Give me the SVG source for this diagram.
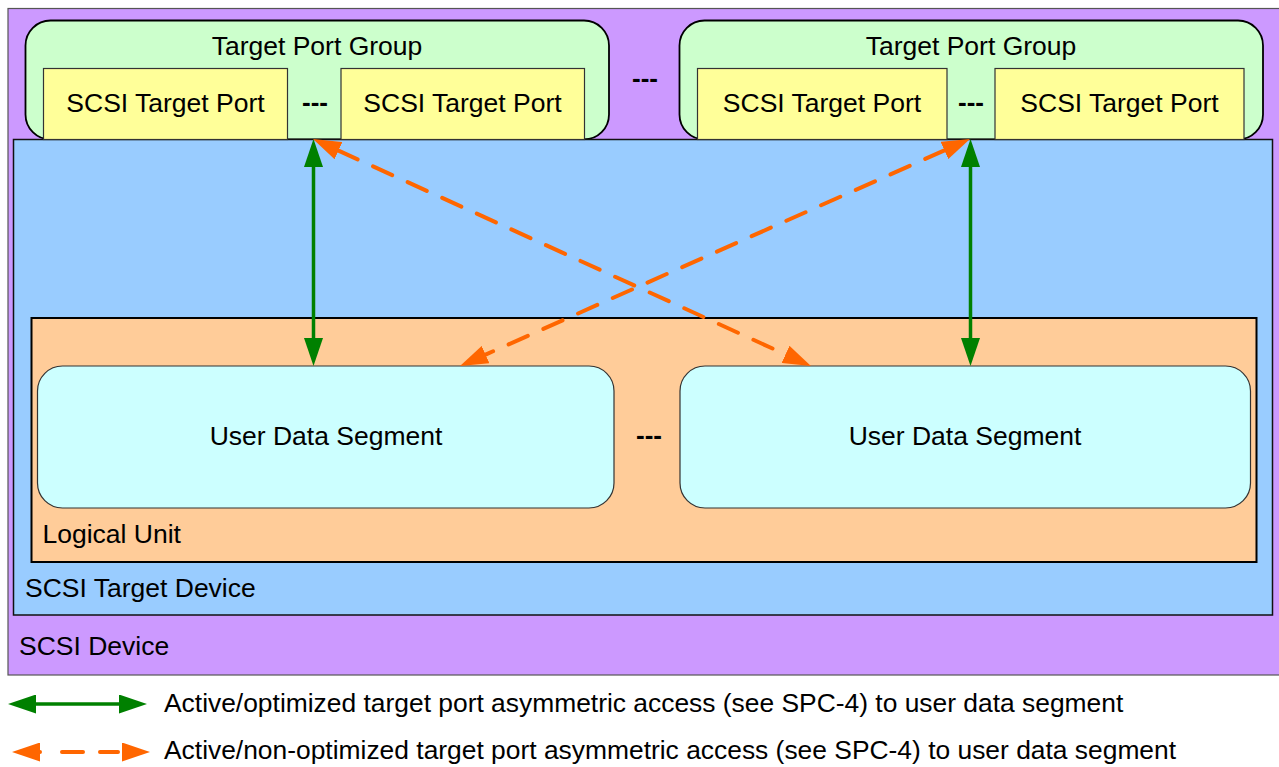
<svg xmlns="http://www.w3.org/2000/svg" width="1279" height="767" viewBox="0 0 1279 767">
  <style>
    text { font-family: "Liberation Sans", Arial, sans-serif; font-size: 26.5px; fill: #000; }
    .mid { text-anchor: middle; }
    .dots { font-weight: bold; text-anchor: middle; font-size: 26px; }
    .legend { font-size: 26.4px; }
    .device { fill: #CC99FF; stroke: #555; stroke-width: 1.2; }
    .tdev { fill: #99CCFF; stroke: #111; stroke-width: 1.5; }
    .tpg { fill: #CCFFCC; stroke: #000; stroke-width: 1.8; }
    .port { fill: #FFFF99; stroke: #333; stroke-width: 1.2; }
    .lu { fill: #FFCC99; stroke: #000; stroke-width: 2; }
    .uds { fill: #CCFFFF; stroke: #333; stroke-width: 1.2; }
    .opt { stroke: #008000; stroke-width: 3.5; fill: none; marker-start: url(#headG); marker-end: url(#headG); }
    .nonopt { stroke: #FF6600; stroke-width: 4; fill: none; stroke-dasharray: 21 17; stroke-linecap: round; marker-start: url(#headO); marker-end: url(#headO); }
  </style>
  <defs>
    <marker id="headG" viewBox="0 0 28 19" refX="0" refY="9.5" markerWidth="28" markerHeight="19" markerUnits="userSpaceOnUse" orient="auto-start-reverse">
      <path d="M0,0 L28,9.5 L0,19 Z" fill="#008000"/>
    </marker>
    <marker id="headO" viewBox="0 0 28 19" refX="0" refY="9.5" markerWidth="28" markerHeight="19" markerUnits="userSpaceOnUse" orient="auto-start-reverse">
      <path d="M0,0 L28,9.5 L0,19 Z" fill="#FF6600"/>
    </marker>
  </defs>

  <!-- SCSI device container -->
  <g id="scsi-device">
    <rect class="device" x="8" y="8.5" width="1272" height="666.5"/>
    <text x="19" y="655">SCSI Device</text>
  </g>

  <!-- Target port groups -->
  <g id="tpg-left">
    <rect class="tpg" x="25.5" y="20.5" width="583.5" height="119" rx="25" ry="25"/>
    <text class="mid" x="317" y="55">Target Port Group</text>
  </g>
  <g id="tpg-right">
    <rect class="tpg" x="679.5" y="20.5" width="583.5" height="119" rx="25" ry="25"/>
    <text class="mid" x="971" y="55">Target Port Group</text>
  </g>

  <text id="tpg-ellipsis" class="dots" x="645" y="87">---</text>

  <!-- SCSI target device -->
  <g id="scsi-target-device">
    <rect class="tdev" x="13.5" y="139.5" width="1259" height="475.5"/>
    <text x="25" y="597">SCSI Target Device</text>
  </g>

  <!-- SCSI target ports -->
  <g id="port-1">
    <rect class="port" x="43.5" y="68.5" width="244" height="71"/>
    <text class="mid" x="165.5" y="112">SCSI Target Port</text>
  </g>
  <g id="port-2">
    <rect class="port" x="341" y="68.5" width="243.5" height="71"/>
    <text class="mid" x="462.5" y="112">SCSI Target Port</text>
  </g>
  <text id="ports-left-ellipsis" class="dots" x="315" y="111">---</text>
  <g id="port-3">
    <rect class="port" x="697.5" y="68.5" width="249.5" height="71"/>
    <text class="mid" x="822" y="112">SCSI Target Port</text>
  </g>
  <g id="port-4">
    <rect class="port" x="995" y="68.5" width="249" height="71"/>
    <text class="mid" x="1119.5" y="112">SCSI Target Port</text>
  </g>
  <text id="ports-right-ellipsis" class="dots" x="971" y="111">---</text>

  <!-- Logical unit -->
  <g id="logical-unit">
    <rect class="lu" x="31.5" y="318" width="1225" height="244"/>
    <text x="42.5" y="543">Logical Unit</text>
  </g>

  <!-- User data segments -->
  <g id="uds-left">
    <rect class="uds" x="37.5" y="366" width="576.5" height="142" rx="25" ry="25"/>
    <text class="mid" x="326" y="445">User Data Segment</text>
  </g>
  <g id="uds-right">
    <rect class="uds" x="680" y="366" width="570.5" height="142" rx="25" ry="25"/>
    <text class="mid" x="965" y="445">User Data Segment</text>
  </g>
  <text id="uds-ellipsis" class="dots" x="649" y="444">---</text>

  <!-- Access paths -->
  <g id="connectors">
    <line class="opt" x1="313.5" y1="167" x2="313.5" y2="338"/>
    <line class="opt" x1="970.5" y1="167" x2="970.5" y2="338"/>
    <line class="nonopt" x1="338.5" y1="150.6" x2="785.5" y2="354.4"/>
    <line class="nonopt" x1="944.4" y1="150.4" x2="485.6" y2="354.6"/>
  </g>

  <!-- Legend -->
  <g id="legend">
    <line class="opt" x1="36" y1="704" x2="119" y2="704"/>
    <text class="legend" x="164" y="712">Active/optimized target port asymmetric access (see SPC-4) to user data segment</text>
    <line class="nonopt" x1="40" y1="752" x2="122" y2="752" style="stroke-dasharray: 0 22 21 17 18 50"/>
    <text class="legend" x="164" y="759">Active/non-optimized target port asymmetric access (see SPC-4) to user data segment</text>
  </g>
</svg>
